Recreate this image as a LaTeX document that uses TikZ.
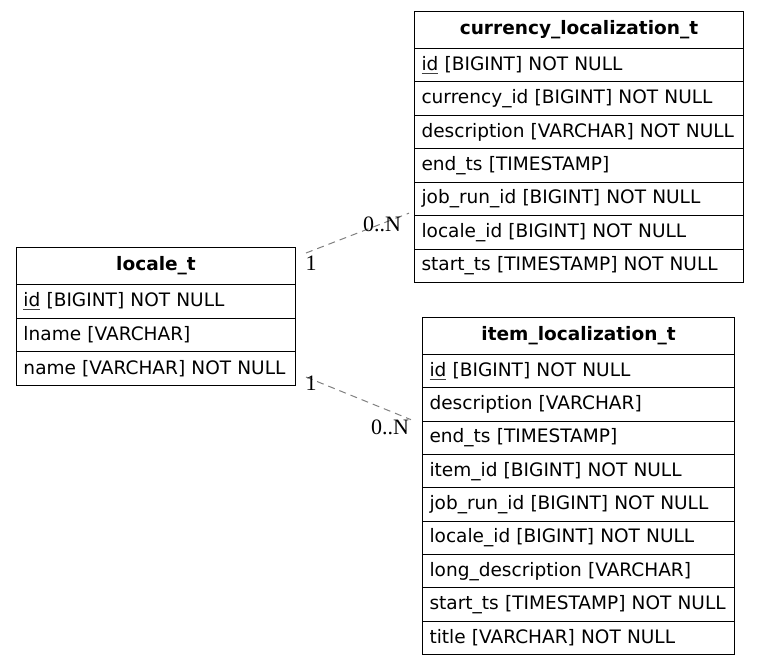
\documentclass[tikz,border=0pt]{standalone}
\usepackage{fontspec}
\setmainfont{DejaVu Sans}
\newfontfamily\labfont{Liberation Serif}
\usetikzlibrary{calc}
\newcommand\keyul[1]{{\color{darkgray}\underline{{\color{black}#1}}}}
\begin{document}
\begin{tikzpicture}[x=0.75pt,y=-0.75pt,
  cell/.style={draw=black, line width=0.75pt, anchor=north west, inner xsep=5.25pt, inner ysep=0pt,
    align=left, font=\fontsize{13.9}{16}\selectfont},
  head/.style={cell, align=center, font=\fontsize{13.9}{16}\selectfont\bfseries},
  rel/.style={draw=gray, line width=0.75pt, dash pattern=on 5.25pt off 3.75pt},
  card/.style={font=\labfont\fontsize{16.5}{18}\selectfont, inner sep=0pt}]
\useasboundingbox (0,0) rectangle (759,664);
% locale_t
\node[head, minimum width=279*0.75pt, text width=265*0.75pt, minimum height=37*0.75pt] (loc-h) at (16,247) {locale\_t};
\foreach [count=\i] \t in {\keyul{id} [BIGINT] NOT NULL, lname [VARCHAR], name [VARCHAR] NOT NULL}
  \node[cell, minimum width=279*0.75pt, text width=265*0.75pt, minimum height=33.67*0.75pt] (loc-\i) at (16,{284+(\i-1)*33.67}) {\mbox{\t}};
% currency_localization_t
\node[head, minimum width=329*0.75pt, text width=315*0.75pt, minimum height=37*0.75pt] (cur-h) at (414,11) {currency\_localization\_t};
\foreach [count=\i] \t in {\keyul{id} [BIGINT] NOT NULL, currency\_id [BIGINT] NOT NULL, description [VARCHAR] NOT NULL, end\_ts [TIMESTAMP], job\_run\_id [BIGINT] NOT NULL, locale\_id [BIGINT] NOT NULL, start\_ts [TIMESTAMP] NOT NULL}
  \node[cell, minimum width=329*0.75pt, text width=315*0.75pt, minimum height=33.43*0.75pt] (cur-\i) at (414,{48+(\i-1)*33.43}) {\mbox{\t}};
% item_localization_t
\node[head, minimum width=312*0.75pt, text width=298*0.75pt, minimum height=37*0.75pt] (item-h) at (422,317) {item\_localization\_t};
\foreach [count=\i] \t in {\keyul{id} [BIGINT] NOT NULL, description [VARCHAR], end\_ts [TIMESTAMP], item\_id [BIGINT] NOT NULL, job\_run\_id [BIGINT] NOT NULL, locale\_id [BIGINT] NOT NULL, long\_description [VARCHAR], start\_ts [TIMESTAMP] NOT NULL, title [VARCHAR] NOT NULL}
  \node[cell, minimum width=312*0.75pt, text width=298*0.75pt, minimum height=33.33*0.75pt] (item-\i) at (422,{354+(\i-1)*33.33}) {\mbox{\t}};
% connectors
\coordinate (s1) at ($(loc-h.north east)+(10,6)$);
\coordinate (e1) at ($(cur-6.north west)+(-5,-2)$);
\coordinate (s2) at ($(loc-3.south east)+(10,-9)$);
\coordinate (e2) at ($(item-3.north west)+(-11,-1)$);
\draw[rel] (s1) -- (e1);
\draw[rel] (s2) -- (e2);
\node[card] (c1a) at (311,263) {1};
\node[card] (c1b) at (382,224) {0..N};
\node[card] (c2a) at (311,383) {1};
\node[card] (c2b) at (390,427) {0..N};
\end{tikzpicture}
\end{document}
